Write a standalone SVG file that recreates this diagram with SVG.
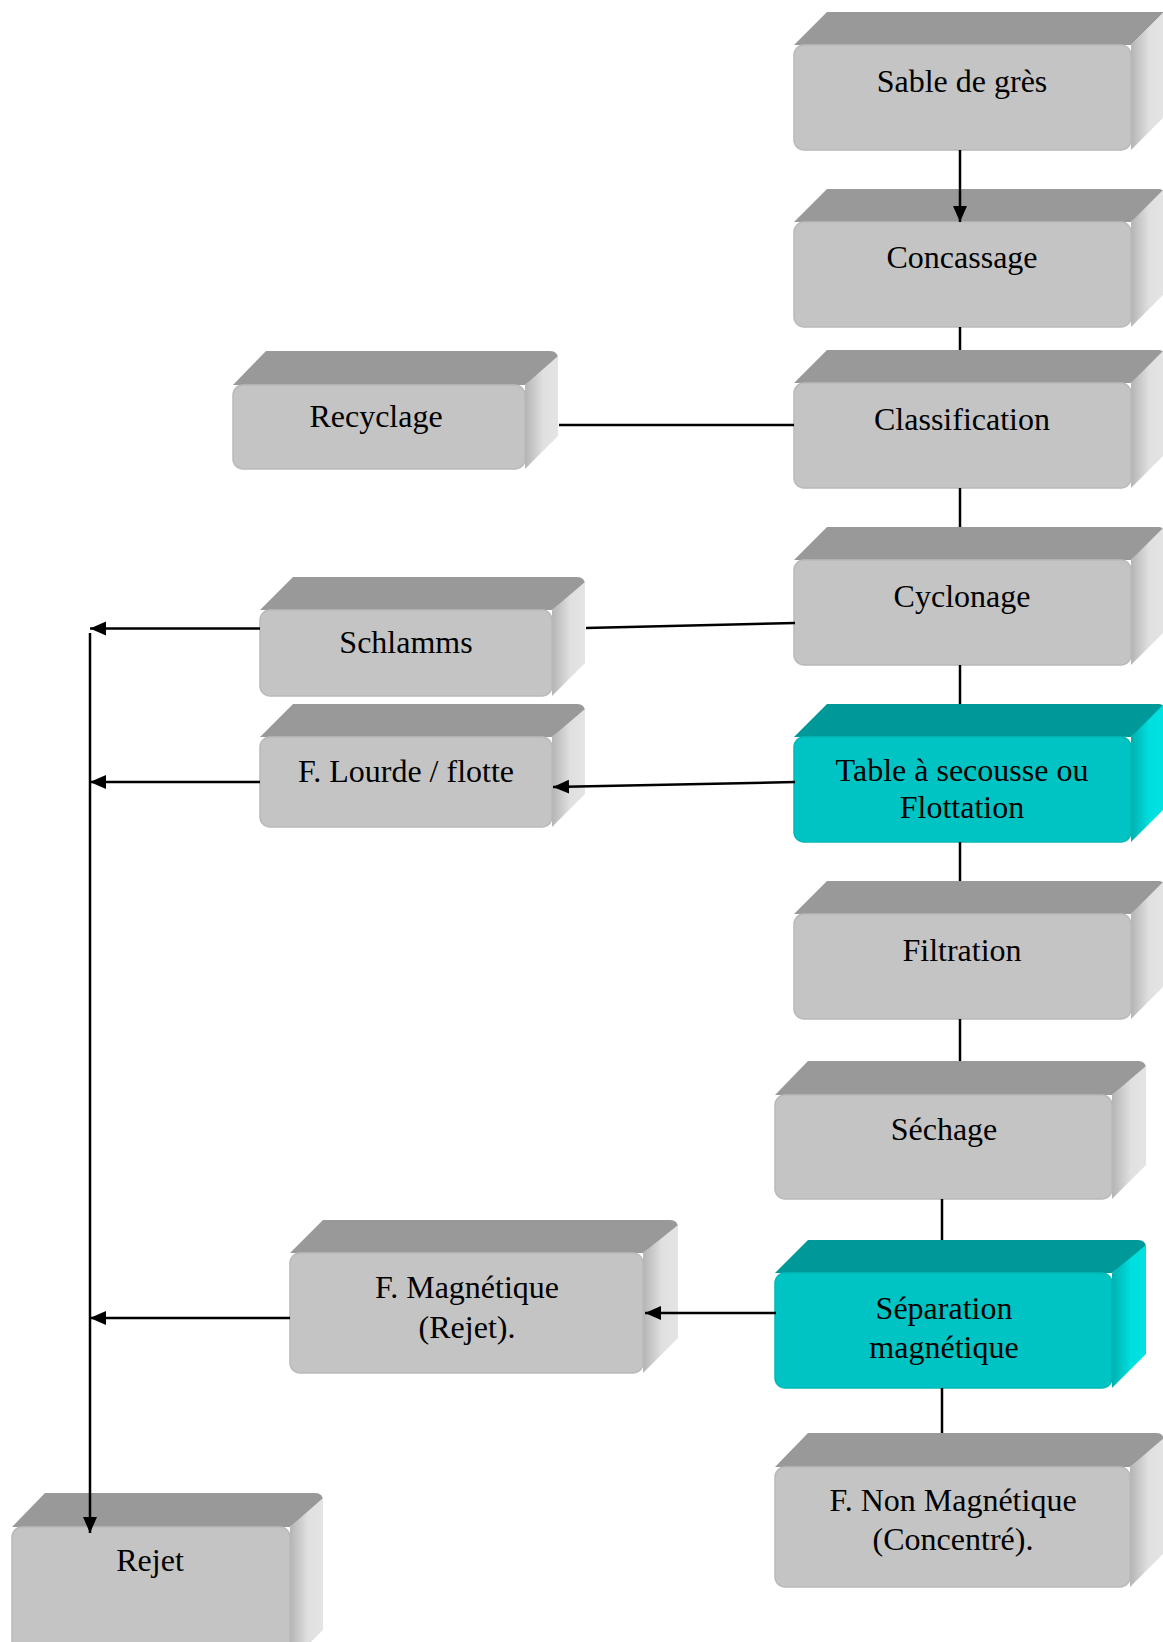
<svg xmlns="http://www.w3.org/2000/svg" width="1163" height="1642" viewBox="0 0 1163 1642">
<style>
.top{fill:#999999}
.side{fill:url(#gs)}
.front{fill:#c4c4c4;stroke:#b9b9b9;stroke-width:1.5}
.ttop{fill:#009999}
.tside{fill:url(#gt)}
.tfront{fill:#00c4c4;stroke:#00b8b8;stroke-width:1.5}
text{font-family:"Liberation Serif","Times New Roman",serif;font-size:32px;fill:#000;text-anchor:middle}
.c{stroke:#000;stroke-width:2.5;fill:none}
.a{marker-end:url(#ah)}
</style>
<defs>
<linearGradient id="gs" x1="0" y1="0" x2="1" y2="0">
<stop offset="0" stop-color="#b4b4b4"/><stop offset="0.55" stop-color="#e0e0e0"/><stop offset="1" stop-color="#e4e4e4"/>
</linearGradient>
<linearGradient id="gt" x1="0" y1="0" x2="1" y2="0">
<stop offset="0" stop-color="#00b0b0"/><stop offset="0.55" stop-color="#00dede"/><stop offset="1" stop-color="#00e2e2"/>
</linearGradient>
<marker id="ah" markerUnits="userSpaceOnUse" markerWidth="18" markerHeight="16" refX="16" refY="7" orient="auto">
<path d="M0,0 L16,7 L0,14 Z" fill="#000"/>
</marker>
</defs>
<rect width="1163" height="1642" fill="#ffffff"/>

<g id="n-sable">
<path class="top" d="M794,45 L827,12 L1164,12 L1131,45 Z"/>
<path class="side" d="M1131,45 L1164,12 L1164,117 L1131,150 Z"/>
<rect class="front" x="794" y="45" width="337" height="105" rx="10"/>
<text x="962" y="92">Sable de grès</text>
</g>

<g id="n-concassage">
<path class="top" d="M794,222 L827,189 L1159,189 Q1164,189 1164,194 L1131,222 Z"/>
<path class="side" d="M1131,222 L1164,189 L1164,294 L1131,327 Z"/>
<rect class="front" x="794" y="222" width="337" height="105" rx="10"/>
<text x="962" y="268">Concassage</text>
</g>

<g id="n-classification">
<path class="top" d="M794,383 L827,350 L1159,350 Q1164,350 1164,355 L1131,383 Z"/>
<path class="side" d="M1131,383 L1164,350 L1164,455 L1131,488 Z"/>
<rect class="front" x="794" y="383" width="337" height="105" rx="10"/>
<text x="962" y="430">Classification</text>
</g>

<g id="n-cyclonage">
<path class="top" d="M794,560 L827,527 L1159,527 Q1164,527 1164,532 L1131,560 Z"/>
<path class="side" d="M1131,560 L1164,527 L1164,632 L1131,665 Z"/>
<rect class="front" x="794" y="560" width="337" height="105" rx="10"/>
<text x="962" y="607">Cyclonage</text>
</g>

<g id="n-table">
<path class="ttop" d="M794,737 L827,704 L1159,704 Q1164,704 1164,709 L1131,737 Z"/>
<path class="tside" d="M1131,737 L1164,704 L1164,809 L1131,842 Z"/>
<rect class="tfront" x="794" y="737" width="337" height="105" rx="10"/>
<text x="962" y="781">Table à secousse ou</text>
<text x="962" y="818">Flottation</text>
</g>

<g id="n-filtration">
<path class="top" d="M794,914 L827,881 L1159,881 Q1164,881 1164,886 L1131,914 Z"/>
<path class="side" d="M1131,914 L1164,881 L1164,986 L1131,1019 Z"/>
<rect class="front" x="794" y="914" width="337" height="105" rx="10"/>
<text x="962" y="961">Filtration</text>
</g>

<g id="n-sechage">
<path class="top" d="M775,1095 L808,1061 L1138,1061 Q1146,1061 1146,1069 L1112,1095 Z"/>
<path class="side" d="M1112,1095 L1146,1066 L1146,1165 L1112,1199 Z"/>
<rect class="front" x="775" y="1095" width="337" height="104" rx="10"/>
<text x="944" y="1140">Séchage</text>
</g>

<g id="n-separation">
<path class="ttop" d="M775,1273 L808,1240 L1138,1240 Q1146,1240 1146,1248 L1112,1273 Z"/>
<path class="tside" d="M1112,1273 L1146,1245 L1146,1354 L1112,1388 Z"/>
<rect class="tfront" x="775" y="1273" width="337" height="115" rx="10"/>
<text x="944" y="1319">Séparation</text>
<text x="944" y="1358">magnétique</text>
</g>

<g id="n-nonmag">
<path class="top" d="M775,1467 L808,1433 L1156,1433 Q1164,1433 1164,1441 L1130,1467 Z"/>
<path class="side" d="M1130,1467 L1164,1438 L1164,1553 L1130,1587 Z"/>
<rect class="front" x="775" y="1467" width="355" height="120" rx="10"/>
<text x="953" y="1511">F. Non Magnétique</text>
<text x="953" y="1550">(Concentré).</text>
</g>

<g id="n-recyclage">
<path class="top" d="M233,385 L266,351 L550,351 Q558,351 558,359 L525,385 Z"/>
<path class="side" d="M525,385 L558,356 L558,436 L525,469 Z"/>
<rect class="front" x="233" y="385" width="292" height="84" rx="10"/>
<text x="376" y="427">Recyclage</text>
</g>

<g id="n-schlamms">
<path class="top" d="M260,610 L293,577 L577,577 Q585,577 585,585 L552,610 Z"/>
<path class="side" d="M552,610 L585,582 L585,663 L552,696 Z"/>
<rect class="front" x="260" y="610" width="292" height="86" rx="10"/>
<text x="406" y="653">Schlamms</text>
</g>

<g id="n-lourde">
<path class="top" d="M260,737 L293,704 L577,704 Q585,704 585,712 L552,737 Z"/>
<path class="side" d="M552,737 L585,709 L585,794 L552,827 Z"/>
<rect class="front" x="260" y="737" width="292" height="90" rx="10"/>
<text x="406" y="782">F. Lourde / flotte</text>
</g>

<g id="n-fmag">
<path class="top" d="M290,1253 L323,1220 L670,1220 Q678,1220 678,1228 L643,1253 Z"/>
<path class="side" d="M643,1253 L678,1225 L678,1338 L643,1373 Z"/>
<rect class="front" x="290" y="1253" width="353" height="120" rx="10"/>
<text x="467" y="1298">F. Magnétique</text>
<text x="467" y="1338">(Rejet).</text>
</g>

<g id="n-rejet">
<path class="top" d="M12,1527 L45,1493 L315,1493 Q323,1493 323,1501 L290,1527 Z"/>
<path class="side" d="M290,1527 L323,1498 L323,1630 L290,1663 Z"/>
<rect class="front" x="12" y="1527" width="278" height="136" rx="10"/>
<text x="150" y="1571">Rejet</text>
</g>

<g id="connectors">
<line class="c a" x1="960" y1="150" x2="960" y2="222"/>
<line class="c" x1="960" y1="327" x2="960" y2="350"/>
<line class="c" x1="960" y1="488" x2="960" y2="527"/>
<line class="c" x1="960" y1="665" x2="960" y2="704"/>
<line class="c" x1="960" y1="842" x2="960" y2="881"/>
<line class="c" x1="960" y1="1019" x2="960" y2="1061"/>
<line class="c" x1="942" y1="1199" x2="942" y2="1240"/>
<line class="c" x1="942" y1="1388" x2="942" y2="1433"/>
<line class="c" x1="559" y1="425" x2="794" y2="425"/>
<line class="c" x1="795" y1="623" x2="586" y2="628"/>
<line class="c a" x1="260" y1="628.5" x2="90" y2="628.5"/>
<line class="c a" x1="795" y1="782" x2="553" y2="787"/>
<line class="c a" x1="260" y1="782" x2="90" y2="782"/>
<line class="c a" x1="776" y1="1313" x2="645" y2="1313"/>
<line class="c a" x1="290" y1="1318" x2="90" y2="1318"/>
<line class="c a" x1="90" y1="633" x2="90" y2="1533"/>
</g>
</svg>
